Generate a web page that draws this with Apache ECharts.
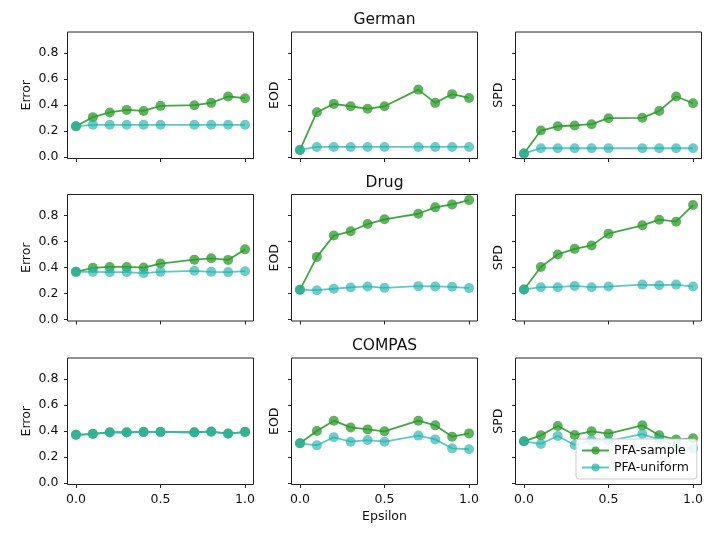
<!DOCTYPE html>
<html>
<head>
<meta charset="utf-8">
<script src="https://cdn.jsdelivr.net/npm/echarts@6/dist/echarts.min.js"></script>
<style>html,body{margin:0;padding:0;background:#fff}#c{width:718px;height:538px}</style>
</head>
<body>
<div id="c"></div>
<script>
const epsilon = [0, 0.1, 0.2, 0.3, 0.4, 0.5, 0.7, 0.8, 0.9, 1.0];
const datasets = ['German', 'Drug', 'COMPAS'];
const metrics = ['Error', 'EOD', 'SPD'];
const seriesNames = ['PFA-sample', 'PFA-uniform'];
const yTicks = [0, 0.2, 0.4, 0.6, 0.8];
const xTicks = [0, 0.5, 1.0];

// German
const germanErrorSample  = [0.238, 0.308, 0.344, 0.364, 0.356, 0.395, 0.400, 0.418, 0.467, 0.454];
const germanErrorUniform = [0.238, 0.249, 0.249, 0.249, 0.249, 0.249, 0.249, 0.249, 0.249, 0.249];
const germanEODSample    = [0.056, 0.346, 0.410, 0.392, 0.372, 0.392, 0.520, 0.418, 0.485, 0.456];
const germanEODUniform   = [0.056, 0.079, 0.079, 0.079, 0.079, 0.079, 0.079, 0.079, 0.079, 0.079];
const germanSPDSample    = [0.028, 0.205, 0.238, 0.244, 0.254, 0.300, 0.303, 0.356, 0.467, 0.415];
const germanSPDUniform   = [0.028, 0.069, 0.069, 0.069, 0.069, 0.069, 0.069, 0.069, 0.069, 0.069];
// Drug
const drugErrorSample    = [0.368, 0.399, 0.406, 0.406, 0.401, 0.432, 0.462, 0.472, 0.460, 0.541];
const drugErrorUniform   = [0.368, 0.368, 0.366, 0.366, 0.358, 0.368, 0.376, 0.368, 0.366, 0.373];
const drugEODSample      = [0.230, 0.483, 0.647, 0.680, 0.736, 0.772, 0.815, 0.864, 0.887, 0.920];
const drugEODUniform     = [0.230, 0.227, 0.238, 0.248, 0.256, 0.245, 0.258, 0.256, 0.253, 0.243];
const drugSPDSample      = [0.232, 0.405, 0.502, 0.545, 0.571, 0.662, 0.726, 0.769, 0.754, 0.882];
const drugSPDUniform     = [0.232, 0.250, 0.250, 0.260, 0.250, 0.255, 0.270, 0.265, 0.270, 0.255];
// COMPAS
const compasErrorSample  = [0.372, 0.380, 0.392, 0.392, 0.395, 0.395, 0.392, 0.397, 0.382, 0.395];
const compasErrorUniform = [0.372, 0.378, 0.390, 0.390, 0.393, 0.393, 0.390, 0.395, 0.381, 0.393];
const compasEODSample    = [0.307, 0.401, 0.481, 0.429, 0.414, 0.399, 0.481, 0.445, 0.358, 0.383];
const compasEODUniform   = [0.307, 0.291, 0.353, 0.319, 0.332, 0.319, 0.366, 0.337, 0.268, 0.261];
const compasSPDSample    = [0.322, 0.368, 0.440, 0.371, 0.399, 0.381, 0.445, 0.368, 0.336, 0.345];
const compasSPDUniform   = [0.322, 0.302, 0.363, 0.294, 0.330, 0.325, 0.378, 0.335, 0.290, 0.266];

const panelData = [
  [[germanErrorSample, germanErrorUniform], [germanEODSample, germanEODUniform], [germanSPDSample, germanSPDUniform]],
  [[drugErrorSample, drugErrorUniform], [drugEODSample, drugEODUniform], [drugSPDSample, drugSPDUniform]],
  [[compasErrorSample, compasErrorUniform], [compasEODSample, compasEODUniform], [compasSPDSample, compasSPDUniform]]
];

const colLeft = [67.5, 291.5, 515.5];
const colWidth = 186;
const rowTop = [32, 194.5, 358];
const rowHeight = 126.5;
const FONT = 'DejaVu Sans';
const colors = [
  { line: '#2ca02c', marker: '#2a9a2a', lineOp: 0.9, markOp: 0.75 },
  { line: '#35bdb5', marker: '#20b2aa', lineOp: 0.8, markOp: 0.65 }
];

const grids = [], xAxes = [], yAxes = [], series = [], graphics = [];
let idx = 0;
for (let r = 0; r < 3; r++) {
  for (let c = 0; c < 3; c++) {
    grids.push({ left: colLeft[c], top: rowTop[r], width: colWidth, height: rowHeight,
      show: true, borderColor: '#222', borderWidth: 1, backgroundColor: 'transparent' });
    xAxes.push({
      type: 'value', gridIndex: idx, min: -0.05, max: 1.05,
      axisLine: { show: false, onZero: false }, splitLine: { show: false },
      axisTick: { show: true, length: 3.5, inside: false, customValues: xTicks, lineStyle: { color: '#222', width: 1 } },
      axisLabel: { show: r === 2, customValues: xTicks, margin: 9, color: '#111', fontSize: 12.5, fontFamily: FONT,
        formatter: v => v.toFixed(1) },
      name: (r === 2 && c === 1) ? 'Epsilon' : '', nameLocation: 'middle', nameGap: 26,
      nameTextStyle: { color: '#111', fontSize: 12.5, fontFamily: FONT }
    });
    yAxes.push({
      type: 'value', gridIndex: idx, min: -0.01, max: 0.963,
      axisLine: { show: false, onZero: false }, splitLine: { show: false },
      axisTick: { show: true, length: 3.5, customValues: yTicks, lineStyle: { color: '#222', width: 1 } },
      axisLabel: { show: c === 0, customValues: yTicks, margin: 9, color: '#111', fontSize: 12.5, fontFamily: FONT,
        formatter: v => v.toFixed(1) },
      name: metrics[c], nameLocation: 'middle', nameRotate: 90, nameGap: c === 0 ? 34 : 10,
      nameTextStyle: { color: '#111', fontSize: 12.5, fontFamily: FONT }
    });
    for (let s = 0; s < 2; s++) {
      const vals = panelData[r][c][s];
      series.push({
        name: seriesNames[s], type: 'line', xAxisIndex: idx, yAxisIndex: idx,
        data: epsilon.map((x, i) => [x, vals[i]]),
        symbol: 'circle', symbolSize: 10, showSymbol: true,
        lineStyle: { color: colors[s].line, width: 1.8, opacity: colors[s].lineOp },
        itemStyle: { color: colors[s].marker, opacity: colors[s].markOp, borderWidth: 0 },
        emphasis: { disabled: true }, animation: false, z: 2 + s
      });
    }
    idx++;
  }
  graphics.push({
    type: 'text', x: colLeft[1] + colWidth / 2, y: rowTop[r] - 12,
    style: { text: datasets[r], fill: '#111', fontSize: 15.5, fontFamily: FONT, textAlign: 'center', textVerticalAlign: 'middle' }
  });
}

const chart = echarts.init(document.getElementById('c'), null, { renderer: 'canvas' });
chart.setOption({
  animation: false,
  backgroundColor: '#fff',
  grid: grids, xAxis: xAxes, yAxis: yAxes, series: series,
  graphic: graphics,
  legend: {
    data: [
      { name: 'PFA-sample', itemStyle: { color: '#2a9a2a', opacity: 0.8 } },
      { name: 'PFA-uniform', itemStyle: { color: '#20b2aa', opacity: 0.7 } }
    ],
    orient: 'vertical', left: 576, top: 439,
    itemWidth: 27, itemHeight: 10, itemGap: 4,
    padding: [5, 8, 5, 5],
    backgroundColor: 'rgba(255,255,255,0.85)', borderColor: '#ccc', borderWidth: 1, borderRadius: 3,
    textStyle: { color: '#111', fontSize: 12.5, fontFamily: FONT },
    z: 10
  }
});
</script>
</body>
</html>
